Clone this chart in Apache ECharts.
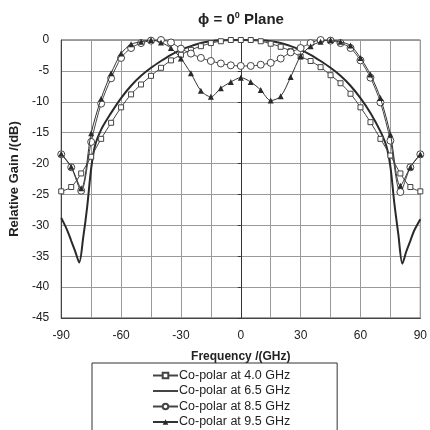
<!DOCTYPE html>
<html>
<head>
<meta charset="utf-8">
<script src="https://cdn.jsdelivr.net/npm/echarts@6/dist/echarts.min.js"></script>
<style>
  html, body { margin: 0; padding: 0; background: #fff; }
  #chart { width: 430px; height: 430px; }
</style>
</head>
<body>
<div id="chart"></div>
<script>
// angles (deg) for the marker series
const angles = [-90, -85, -80, -75, -70, -65, -60, -55, -50, -45, -40, -35, -30, -25, -20, -15, -10, -5, 0,
  5, 10, 15, 20, 25, 30, 35, 40, 45, 50, 55, 60, 65, 70, 75, 80, 85, 90];

const gain40 = [-24.5, -23.8, -21.6, -18.9, -16.0, -13.4, -10.9, -8.8, -7.2, -5.8, -4.5, -3.3, -2.4, -1.6, -1.0, -0.5, -0.2, 0, 0,
  0, -0.2, -0.6, -1.1, -1.8, -2.7, -3.4, -4.4, -5.7, -7.0, -8.7, -10.9, -13.3, -16.0, -18.7, -21.6, -23.8, -24.5];

const gain85 = [-18.5, -20.6, -24.4, -16.5, -10.3, -6.2, -2.9, -1.3, -0.5, -0.1, 0, -0.4, -1.4, -2.2, -2.9, -3.4, -3.8, -4.1, -4.2,
  -4.2, -4.0, -3.7, -3.0, -2.0, -1.3, -0.5, 0, -0.1, -0.5, -1.3, -3.3, -6.1, -10.1, -16.3, -24.6, -20.6, -18.5];

const gain95 = [-18.4, -20.5, -24.0, -15.1, -9.5, -5.4, -2.2, -0.7, -0.3, 0, -0.4, -1.3, -3.0, -5.4, -8.2, -9.2, -7.8, -6.8, -6.1,
  -6.8, -8.1, -9.8, -9.1, -6.0, -2.6, -1.0, -0.3, 0, -0.3, -0.9, -2.9, -5.6, -9.4, -15.3, -23.6, -20.6, -18.5];

// 6.5 GHz is drawn as a plain line, read at its own angles
const angles65 = [-90, -87, -85, -83, -81, -79, -77, -75, -73, -70, -65, -60, -55, -50, -45, -40, -35, -30, -25, -20, -15, -10, 0,
  10, 15, 20, 25, 30, 35, 40, 45, 50, 55, 60, 65, 70, 73, 75, 77, 79, 81, 83, 85, 87, 90];
const gain65 = [-28.8, -30.8, -32.5, -34.2, -36.0, -32.0, -27.0, -20.8, -17.0, -14.5, -11.8, -9.4, -7.4, -5.8, -4.5, -3.4, -2.4, -1.6, -1.0, -0.5, -0.2, -0.05, 0,
  -0.05, -0.2, -0.5, -1.0, -1.6, -2.4, -3.4, -4.5, -5.8, -7.4, -9.4, -11.8, -14.8, -17.2, -20.5, -26.5, -31.5, -36.2, -34.2, -32.5, -30.8, -29.0];

const seriesNames = ['Co-polar at 4.0 GHz', 'Co-polar at 6.5 GHz', 'Co-polar at 8.5 GHz', 'Co-polar at 9.5 GHz'];

function pairs(xs, ys) {
  const out = [];
  for (let i = 0; i < xs.length; i++) {
    out.push([xs[i], ys[i]]);
  }
  return out;
}

const chart = echarts.init(document.getElementById('chart'), null, { renderer: 'canvas' });

const font = 'Liberation Sans, Arial, sans-serif';

const option = {
  backgroundColor: '#fff',
  animation: false,
  title: {
    text: '{a|\u03d5 = 0}{s|0}{a| Plane}',
    left: 236,
    textAlign: 'center',
    top: 6,
    textStyle: {
      rich: {
        a: { fontFamily: font, fontSize: 15, fontWeight: 'bold', color: '#222', lineHeight: 18 },
        s: { fontFamily: font, fontSize: 9, fontWeight: 'bold', color: '#222', lineHeight: 10, verticalAlign: 'top' }
      }
    }
  },
  grid: {
    left: 58,
    right: 6,
    top: 40,
    bottom: 112,
    show: true,
    borderColor: '#444',
    borderWidth: 1
  },
  legend: {
    orient: 'vertical',
    left: 92,
    top: 363,
    height: 90,
    padding: [6, 47, 8, 60],
    itemGap: 2.5,
    itemWidth: 25,
    itemHeight: 7,
    borderColor: '#333',
    borderWidth: 1,
    textStyle: { fontFamily: font, fontSize: 12.5, color: '#222', padding: [0, 0, 0, -4] },
    data: [
      { name: seriesNames[0] },
      { name: seriesNames[1], icon: 'path://M0,0H100V7H0Z' },
      { name: seriesNames[2] },
      { name: seriesNames[3] }
    ]
  },
  xAxis: {
    type: 'value',
    min: -90,
    max: 90,
    interval: 15,
    name: 'Frequency /(GHz)',
    nameLocation: 'middle',
    nameGap: 33,
    nameTextStyle: { fontFamily: font, fontSize: 12, fontWeight: 'bold', color: '#222' },
    axisLine: { onZero: false, lineStyle: { color: '#444' } },
    axisTick: { show: false },
    axisLabel: {
      fontFamily: font, fontSize: 12, color: '#222', margin: 12,
      formatter: function (v) { return v % 30 === 0 ? String(v) : ''; }
    },
    splitLine: { lineStyle: { color: '#999', width: 1 } }
  },
  yAxis: [{
    type: 'value',
    min: -45,
    max: 0,
    interval: 5,
    name: 'Relative Gain /(dB)',
    nameLocation: 'middle',
    nameGap: 34,
    nameTextStyle: { fontFamily: font, fontSize: 13, fontWeight: 'bold', color: '#222' },
    axisLine: { show: true, onZero: false, lineStyle: { color: '#444' } },
    axisTick: { show: false },
    axisLabel: { fontFamily: font, fontSize: 12, color: '#222', margin: 12 },
    splitLine: { lineStyle: { color: '#999', width: 1 } }
  }, {
    type: 'value',
    min: -45,
    max: 0,
    interval: 5,
    position: 'left',
    axisLine: { show: true, onZero: true, onZeroAxisIndex: 0, lineStyle: { color: '#333' } },
    axisTick: { show: true, length: 3, lineStyle: { color: '#333' } },
    axisLabel: { show: false },
    splitLine: { show: false }
  }],
  series: [{
    name: seriesNames[0],
    type: 'line',
    data: pairs(angles, gain40),
    smooth: 0.3,
    symbol: 'rect',
    symbolSize: 5,
    lineStyle: { color: '#444', width: 1 },
    itemStyle: { color: '#fff', borderColor: '#444', borderWidth: 1 },
    z: 3
  }, {
    name: seriesNames[1],
    type: 'line',
    data: pairs(angles65, gain65),
    smooth: 0.3,
    showSymbol: false,
    symbol: 'none',
    lineStyle: { color: '#2a2a2a', width: 2 },
    itemStyle: { color: '#2a2a2a' },
    z: 2
  }, {
    name: seriesNames[2],
    type: 'line',
    data: pairs(angles, gain85),
    smooth: 0.3,
    symbol: 'circle',
    symbolSize: 7,
    lineStyle: { color: '#444', width: 1 },
    itemStyle: { color: '#fff', borderColor: '#444', borderWidth: 1 },
    z: 4
  }, {
    name: seriesNames[3],
    type: 'line',
    data: pairs(angles, gain95),
    smooth: 0.3,
    symbol: 'triangle',
    symbolSize: 6,
    lineStyle: { color: '#333', width: 1 },
    itemStyle: { color: '#2a2a2a' },
    z: 5
  }]
};

chart.setOption(option);
</script>
</body>
</html>
